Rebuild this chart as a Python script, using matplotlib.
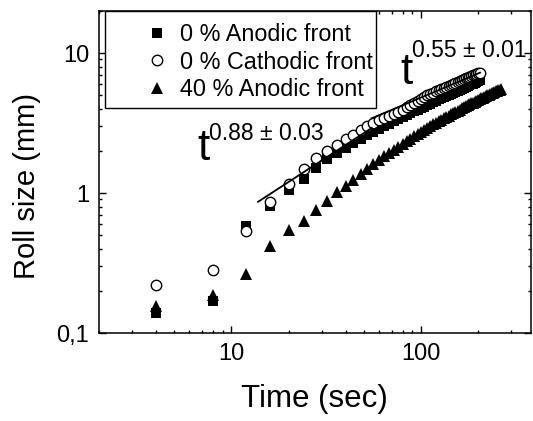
import matplotlib
matplotlib.use("Agg")
import matplotlib.pyplot as plt
from matplotlib.patches import Rectangle
from matplotlib.ticker import FixedLocator, FixedFormatter, LogLocator, NullFormatter

plt.rcParams['font.family'] = ['Liberation Sans', 'DejaVu Sans']

# --- data (time in s, roll size in mm) ---
time_0 = [4, 8, 12, 16, 20, 24, 28, 32, 36, 40, 44, 48, 52, 56, 60, 64, 68, 72,
          76, 80, 84, 88, 92, 96, 100, 104, 108, 112, 116, 120, 124, 128, 132,
          136, 140, 144, 148, 152, 156, 160, 164, 168, 172, 176, 180, 184, 188,
          192, 196, 200, 204]

anodic_0 = [0.14, 0.17, 0.58, 0.81, 1.06, 1.25, 1.52, 1.75, 1.93, 2.10, 2.27,
            2.43, 2.58, 2.72, 2.86, 3.00, 3.12, 3.25, 3.37, 3.49, 3.60, 3.72,
            3.83, 3.94, 4.05, 4.15, 4.26, 4.36, 4.46, 4.56, 4.66, 4.75, 4.85,
            4.94, 5.03, 5.12, 5.21, 5.30, 5.39, 5.48, 5.56, 5.65, 5.73, 5.82,
            5.90, 5.98, 6.06, 6.14, 6.22, 6.30, 6.38]

cathodic_0 = [0.22, 0.28, 0.54, 0.87, 1.17, 1.48, 1.77, 2.00, 2.20, 2.42, 2.60,
              2.80, 3.00, 3.15, 3.30, 3.42, 3.55, 3.68, 3.82, 3.95, 4.10, 4.25,
              4.40, 4.55, 4.70, 4.85, 5.00, 5.10, 5.22, 5.34, 5.45, 5.56, 5.66,
              5.76, 5.86, 5.96, 6.05, 6.15, 6.24, 6.33, 6.42, 6.50, 6.60, 6.68,
              6.76, 6.85, 6.93, 7.01, 7.09, 7.17, 7.25]

time_40 = [4, 8, 12, 16, 20, 24, 28, 32, 36, 40, 44, 48, 52, 56, 60, 64, 68,
           72, 76, 80, 84, 88, 92, 96, 100, 104, 108, 112, 116, 120, 124, 128,
           132, 136, 140, 144, 148, 152, 156, 160, 164, 168, 172, 176, 180, 184,
           188, 192, 196, 200, 204, 208, 212, 216, 220, 224, 228, 232, 236, 240,
           244, 248, 252, 256, 260, 264]

anodic_40 = [0.155, 0.187, 0.264, 0.42, 0.548, 0.627, 0.757, 0.884, 1.02, 1.12,
             1.24, 1.36, 1.48, 1.60, 1.72, 1.83, 1.94, 2.04, 2.14, 2.24, 2.34,
             2.44, 2.54, 2.64, 2.74, 2.83, 2.92, 3.01, 3.10, 3.18, 3.26, 3.34,
             3.42, 3.50, 3.58, 3.66, 3.73, 3.80, 3.88, 3.95, 4.02, 4.09, 4.16,
             4.23, 4.30, 4.37, 4.43, 4.50, 4.56, 4.63, 4.69, 4.75, 4.81, 4.87,
             4.93, 4.99, 5.05, 5.10, 5.16, 5.21, 5.27, 5.32, 5.37, 5.42, 5.47,
             5.52]

# power-law fit segments (end points)
fit_early_t = [13.8, 55]
fit_early_y = [0.865, 2.92]
fit_late_t = [55, 205]
fit_late_y = [3.42, 7.25]

labels = ['0 % Anodic front', '0 % Cathodic front', '40 % Anodic front']
y_ticks = [0.1, 1, 10]
y_tick_labels = ['0,1', '1', '10']
x_ticks = [10, 100]
x_tick_labels = ['10', '100']

fig = plt.figure(figsize=(5.33, 4.21), dpi=100)
ax = fig.add_axes([0.1857, 0.209, 0.8103, 0.765])

ax.plot(time_0, anodic_0, 's', color='black', ms=7, mew=0, label=labels[0])
ax.plot(time_0, cathodic_0, 'o', mfc='white', mec='black', mew=1.0, ms=7.5,
        label=labels[1])
ax.plot(time_40, anodic_40, '^', color='black', ms=8.5, mew=0, label=labels[2])

ax.plot(fit_early_t, fit_early_y, '-', color='black', lw=1.3)
ax.plot(fit_late_t, fit_late_y, '-', color='black', lw=1.3)

ax.set_xscale('log')
ax.set_yscale('log')
ax.set_xlim(2, 380)
ax.set_ylim(0.1, 20)

ax.xaxis.set_major_locator(FixedLocator(x_ticks))
ax.xaxis.set_major_formatter(FixedFormatter(x_tick_labels))
ax.xaxis.set_minor_locator(LogLocator(base=10, subs=range(2, 10)))
ax.xaxis.set_minor_formatter(NullFormatter())
ax.yaxis.set_major_locator(FixedLocator(y_ticks))
ax.yaxis.set_major_formatter(FixedFormatter(y_tick_labels))
ax.yaxis.set_minor_locator(LogLocator(base=10, subs=range(2, 10)))
ax.yaxis.set_minor_formatter(NullFormatter())

ax.tick_params(which='both', direction='in', top=True, right=True, width=1)
ax.tick_params(which='major', length=5, labelsize=17, pad=7)
ax.tick_params(which='minor', length=2.5)
for sp in ax.spines.values():
    sp.set_linewidth(1.1)

ax.set_xlabel('Time (sec)', fontsize=22.5, labelpad=14)
ax.set_ylabel('Roll size (mm)', fontsize=21)
ax.yaxis.set_label_coords(-0.135, 0.457)

# exponents of the fits
ax.text(0.227, 0.537, 't', transform=ax.transAxes, fontsize=32, va='baseline')
ax.text(0.255, 0.599, '0.88 ± 0.03', transform=ax.transAxes, fontsize=16.5,
        va='baseline')
ax.text(0.699, 0.773, 't', transform=ax.transAxes, fontsize=32, va='baseline')
ax.text(0.725, 0.857, '0.55 ± 0.01', transform=ax.transAxes, fontsize=16.5,
        va='baseline')

# legend box
ax.add_patch(Rectangle((0.0139, 0.699), 0.627, 0.301, transform=ax.transAxes,
                       facecolor='white', edgecolor='black', lw=1.0,
                       zorder=3, clip_on=False))
ax.legend(loc='upper left', bbox_to_anchor=(0.107, 0.962), frameon=False,
          fontsize=16.8, borderpad=0, borderaxespad=0, handlelength=1.0,
          handletextpad=0.48, labelspacing=0.19, numpoints=1)

fig.savefig('out.png', dpi=100)
